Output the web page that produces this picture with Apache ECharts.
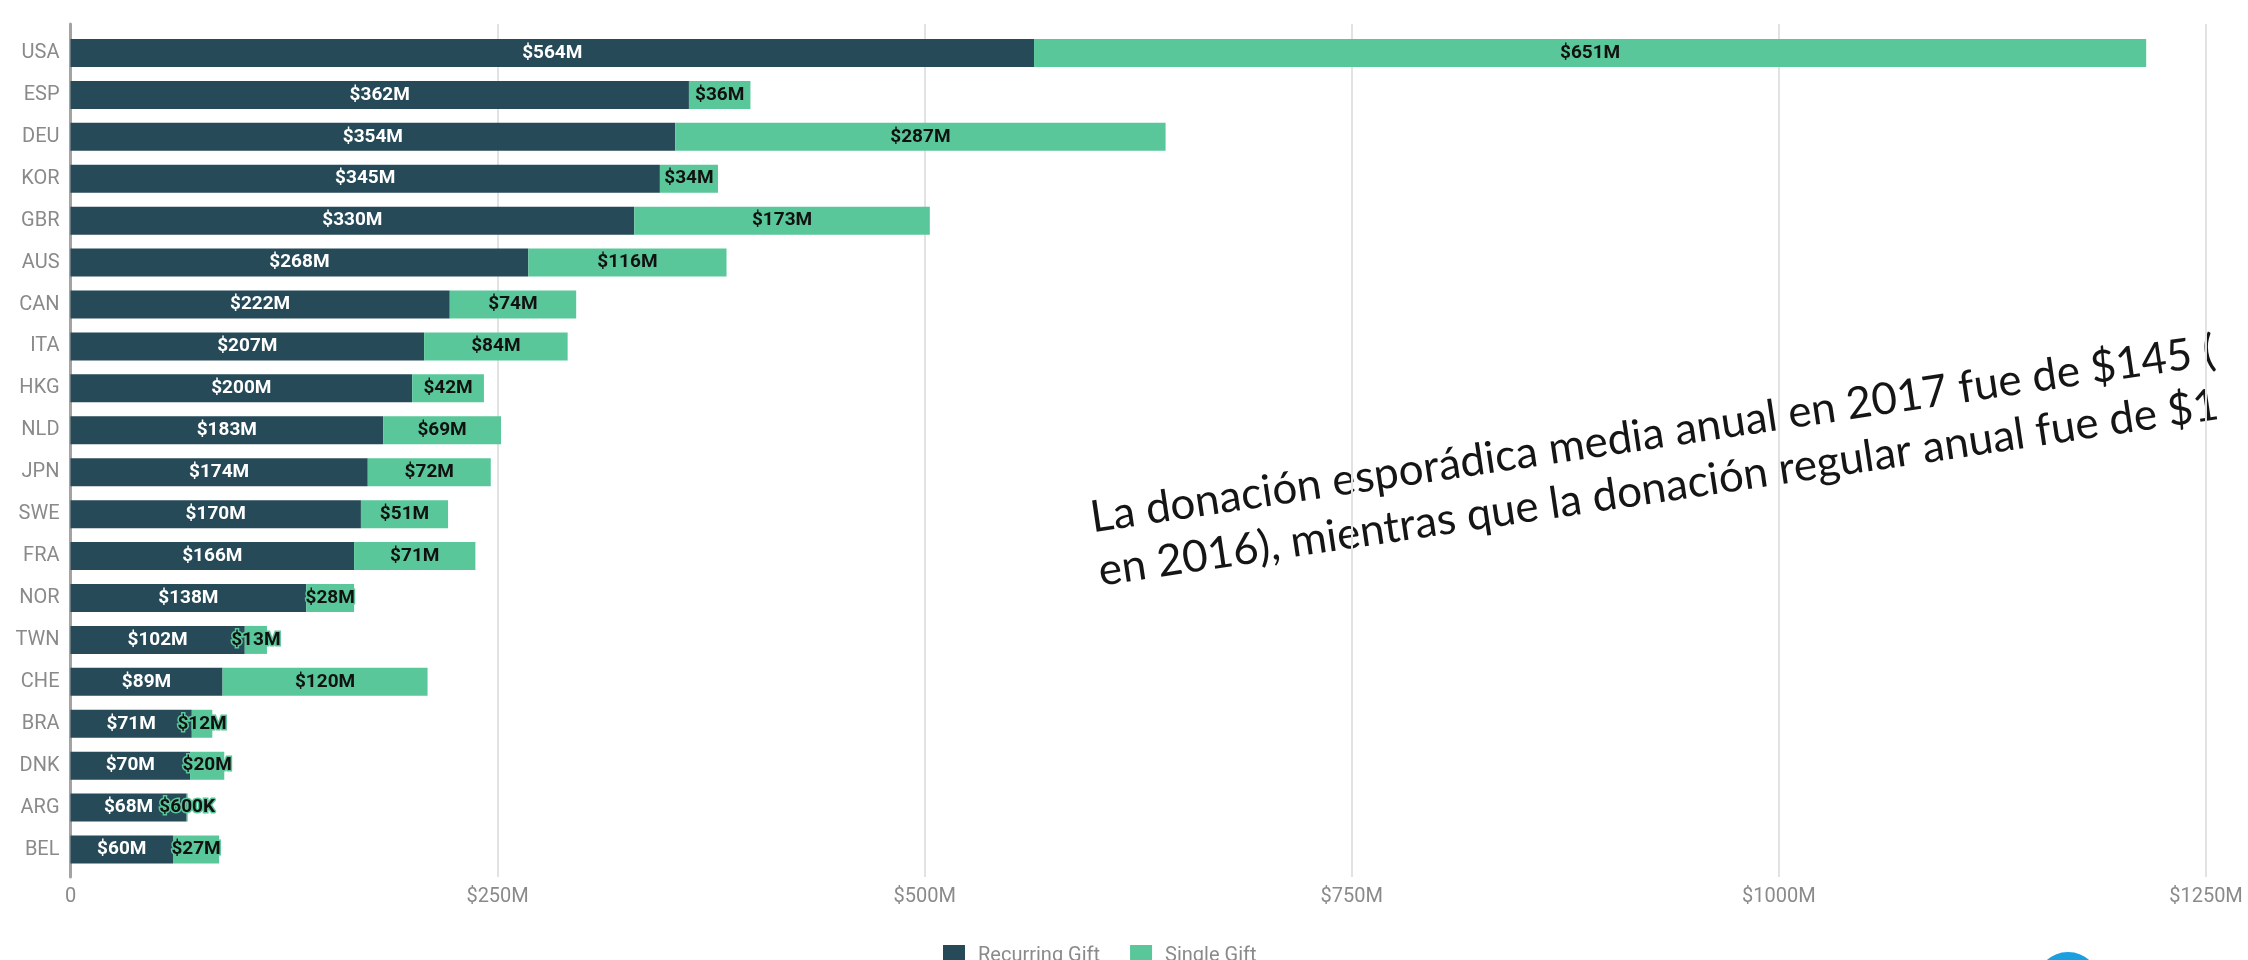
<!DOCTYPE html>
<html>
<head>
<meta charset="utf-8">
<script src="https://cdn.jsdelivr.net/npm/echarts@6/dist/echarts.min.js"></script>
<style>
html,body{margin:0;padding:0;background:#fff;}
#chart{width:2248px;height:960px;}
</style>
</head>
<body>
<div id="chart"></div>
<script>
const categories = ['USA','ESP','DEU','KOR','GBR','AUS','CAN','ITA','HKG','NLD','JPN','SWE','FRA','NOR','TWN','CHE','BRA','DNK','ARG','BEL'];
const recurringGift = [564,362,354,345,330,268,222,207,200,183,174,170,166,138,102,89,71,70,68,60];
const singleGift = [651,36,287,34,173,116,74,84,42,69,72,51,71,28,13,120,12,20,0.6,27];
const xTicks = [0,250,500,750,1000,1250];
const seriesNames = ['Recurring Gift','Single Gift'];
const noteLines = [
  'La donación esporádica media anual en 2017 fue de $145 (',
  'en 2016), mientras que la donación regular anual fue de $1'
];

const DARK = '#264a58';
const GREEN = '#59c79a';

function money(v){
  if (v === 0) return '0';
  if (v < 1) return '$' + Math.round(v*1000) + 'K';
  return '$' + v + 'M';
}

const chart = echarts.init(document.getElementById('chart'));
const option = {
  backgroundColor:'#ffffff',
  animation:false,
  textStyle:{fontFamily:'Roboto'},
  legend:{
    data:seriesNames,
    left:938, top:940,
    icon:'rect', itemWidth:22, itemHeight:22, itemGap:30,
    textStyle:{fontSize:20, color:'#8a8a8a', padding:[0,0,0,8], fontFamily:'Roboto'}
  },
  grid:[
    {left:70.5, right:42, top:32, bottom:89.5, containLabel:false},
    {left:70.5, right:42, top:24, bottom:83, containLabel:false}
  ],
  xAxis:[
    {type:'value', gridIndex:0, min:xTicks[0], max:xTicks[xTicks.length-1], interval:250,
     axisLine:{show:false}, axisTick:{show:false}, splitLine:{show:false},
     axisLabel:{margin:16, fontSize:20, color:'#8a8a8a', fontFamily:'Roboto',
       formatter:function(v){return money(v);}}},
    {type:'value', gridIndex:1, min:xTicks[0], max:xTicks[xTicks.length-1], interval:250,
     axisLine:{show:false}, axisTick:{show:false}, axisLabel:{show:false},
     splitLine:{show:true, lineStyle:{color:'#e2e2e2', width:2}}}
  ],
  yAxis:[
    {type:'category', gridIndex:0, data:categories, inverse:true,
     axisLine:{show:false}, axisTick:{show:false},
     axisLabel:{margin:11, fontSize:20, color:'#8a8a8a', fontFamily:'Roboto'}},
    {type:'value', gridIndex:1, min:0, max:1,
     axisLine:{show:true, lineStyle:{color:'#a3a3a3', width:3}},
     axisTick:{show:false}, axisLabel:{show:false}, splitLine:{show:false}}
  ],
  series:[
    {name:seriesNames[0], type:'bar', stack:'total', xAxisIndex:0, yAxisIndex:0,
     data:recurringGift, barWidth:28, itemStyle:{color:DARK}, z:3,
     label:{show:true, position:'inside', color:'#ffffff', fontSize:19, fontWeight:'bold',
       fontFamily:'Roboto', textBorderColor:DARK, textBorderWidth:2,
       formatter:function(p){return money(p.value);}}},
    {name:seriesNames[1], type:'bar', stack:'total', xAxisIndex:0, yAxisIndex:0,
     data:singleGift, barWidth:28, itemStyle:{color:GREEN}, z:3,
     label:{show:true, position:'inside', color:'#111111', fontSize:19, fontWeight:'bold',
       fontFamily:'Roboto', textBorderColor:GREEN, textBorderWidth:3,
       formatter:function(p){return money(p.value);}}}
  ],
  graphic:[
    {type:'group', x:1094, y:540, rotation:0.148, z:100, children:[
      {type:'text', x:0, y:0, style:{text:noteLines[0], font:'44px Lato', fill:'#151515', verticalAlign:'bottom', align:'left'}},
      {type:'text', x:0, y:54, style:{text:noteLines[1], font:'44px Lato', fill:'#151515', verticalAlign:'bottom', align:'left'}}
    ]},
    {type:'circle', shape:{cx:2068, cy:984, r:32}, style:{fill:'#1a9fe0'}, z:100},
    {type:'circle', shape:{cx:2113, cy:990, r:30}, style:{fill:'#1a9fe0'}, z:100}
  ]
};
chart.setOption(option);
</script>
</body>
</html>
